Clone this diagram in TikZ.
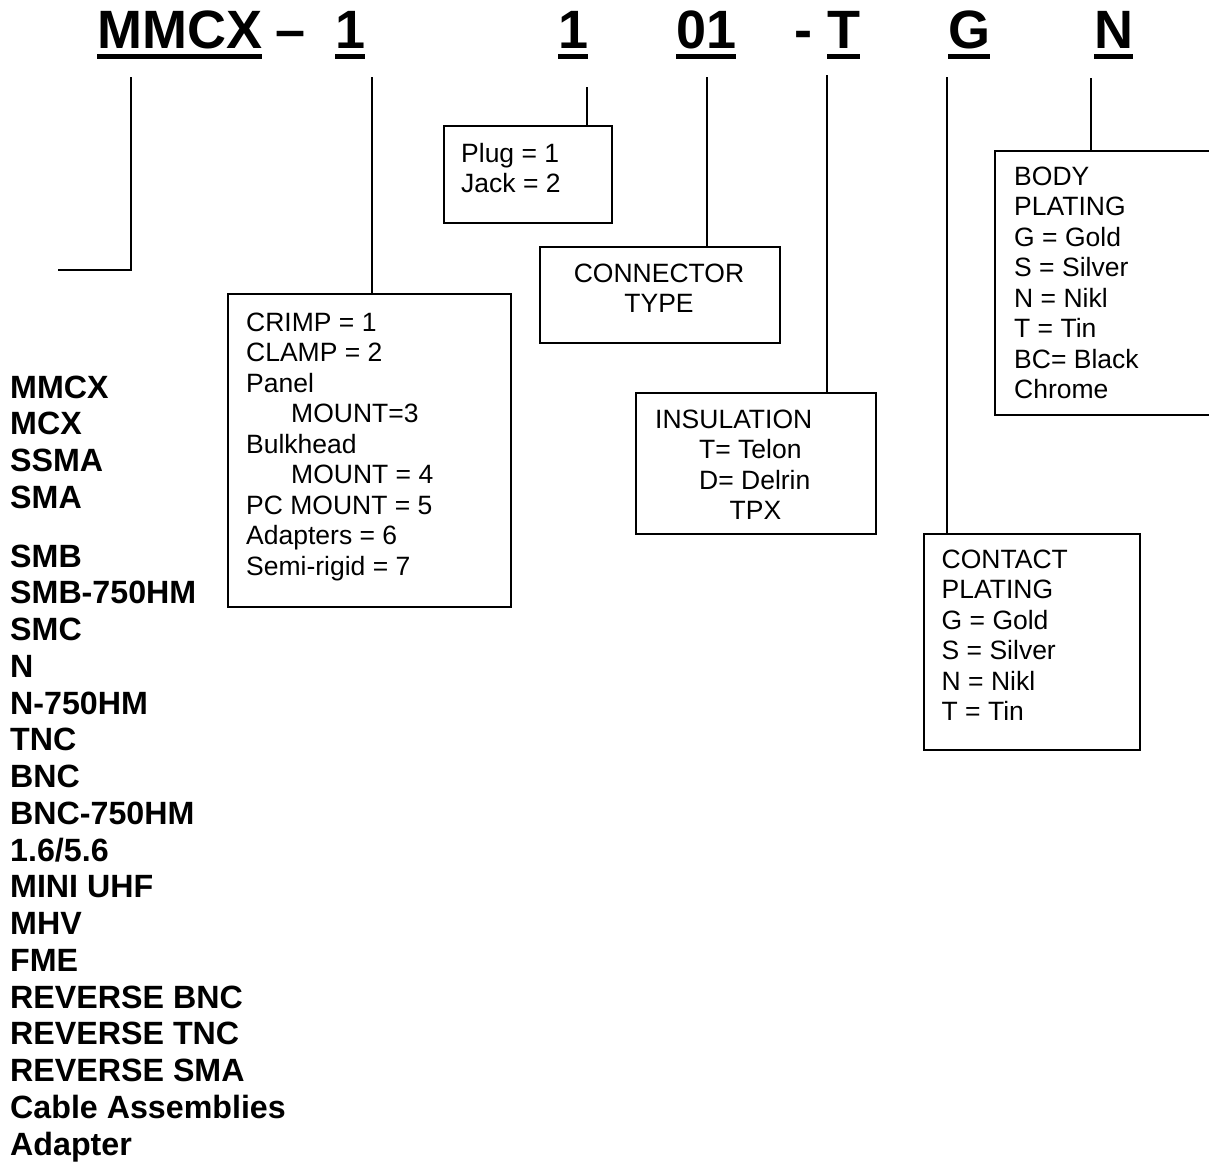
\documentclass[tikz,border=0pt]{standalone}
\usepackage{fontspec}
\setmainfont{Liberation Sans}
\begin{document}
\begin{tikzpicture}[x=1pt,y=-1pt,
  ttl/.style={inner sep=0pt, anchor=base west, font=\fontsize{54}{60}\selectfont\bfseries},
  lst/.style={inner sep=0pt, anchor=base west, font=\fontsize{32.2}{36}\selectfont\bfseries},
  txt/.style={inner sep=0pt, anchor=base west, font=\fontsize{26.5}{30}\selectfont},
  ctxt/.style={txt, anchor=base},
  boxc/.style={draw, line width=2pt, inner sep=0pt, anchor=north west, rectangle},
  lnk/.style={line width=2pt},
  uline/.style={line width=5pt}]
\useasboundingbox (0,0) rectangle (1209,1162);

% title
\node[ttl] (tmmcx) at (97,48) {MMCX};
\node[ttl] (tdash) at (275,48) {–};
\node[ttl] (tone) at (335,48) {1};
\node[ttl] (ttwo) at (558,48) {1};
\node[ttl] (tzero) at (676,48) {01};
\node[ttl] (thy) at (794,48) {-};
\node[ttl] (tT) at (827,48) {T};
\node[ttl] (tG) at (948,48) {G};
\node[ttl] (tN) at (1094,48) {N};
\foreach \n in {tmmcx,tone,ttwo,tzero,tT,tG,tN}
  \draw[uline] ([yshift=-8pt]\n.base west) -- ([yshift=-8pt]\n.base east);

% boxes
\node[boxc, minimum width=168pt, minimum height=97pt] (plug) at (443,125) {};
\node[boxc, minimum width=240pt, minimum height=96pt] (conn) at (539,246) {};
\node[boxc, minimum width=283pt, minimum height=313pt] (crimp) at (227,293) {};
\node[boxc, minimum width=240pt, minimum height=141pt] (ins) at (635,392) {};
\node[boxc, minimum width=216pt, minimum height=216pt] (contact) at (923,533) {};
\node[boxc, minimum width=222pt, minimum height=264pt] (body) at (994,150) {};

% connectors
\coordinate (a0) at (131,77);
\coordinate (a1) at (58,270);
\draw[lnk] (a0) |- (a1);
\coordinate (b0) at (372,77);
\draw[lnk] (b0) -- (b0 |- crimp.north);
\coordinate (c0) at (587,87);
\draw[lnk] (c0) -- (c0 |- plug.north);
\coordinate (d0) at (707,77);
\draw[lnk] (d0) -- (d0 |- conn.north);
\coordinate (e0) at (827,75);
\draw[lnk] (e0) -- (e0 |- ins.north);
\coordinate (f0) at (947,77);
\draw[lnk] (f0) -- (f0 |- contact.north);
\coordinate (g0) at (1091,78);
\draw[lnk] (g0) -- (g0 |- body.north);

% plug box text
\node[txt] (p1) at (461,162) {Plug = 1};
\node[txt] (p2) at (461,192) {Jack = 2};

% connector type
\node[ctxt] (k1) at (659,282) {CONNECTOR};
\node[ctxt] (k2) at (659,312) {TYPE};

% crimp box text
\node[txt] (m1) at (246,331) {CRIMP = 1};
\node[txt] (m2) at (246,361.5) {CLAMP = 2};
\node[txt] (m3) at (246,392) {Panel};
\node[txt] (m4) at (291,422.5) {MOUNT=3};
\node[txt] (m5) at (246,453) {Bulkhead};
\node[txt] (m6) at (291,483.5) {MOUNT = 4};
\node[txt] (m7) at (246,514) {PC MOUNT = 5};
\node[txt] (m8) at (246,544.5) {Adapters = 6};
\node[txt] (m9) at (246,575) {Semi-rigid = 7};

% insulation
\node[txt] (i1) at (655,428) {INSULATION};
\node[txt] (i2) at (699,458.5) {T= Telon};
\node[txt] (i3) at (699,489) {D= Delrin};
\node[txt] (i4) at (729.5,519.5) {TPX};

% body plating
\node[txt] (bp1) at (1014,185) {BODY};
\node[txt] (bp2) at (1014,215.5) {PLATING};
\node[txt] (bp3) at (1014,246) {G = Gold};
\node[txt] (bp4) at (1014,276.5) {S = Silver};
\node[txt] (bp5) at (1014,307) {N = Nikl};
\node[txt] (bp6) at (1014,337.5) {T = Tin};
\node[txt] (bp7) at (1014,368) {BC= Black};
\node[txt] (bp8) at (1014,398.5) {Chrome};

% contact plating
\node[txt] (cp1) at (941.5,568) {CONTACT};
\node[txt] (cp2) at (941.5,598.5) {PLATING};
\node[txt] (cp3) at (941.5,629) {G = Gold};
\node[txt] (cp4) at (941.5,659.5) {S = Silver};
\node[txt] (cp5) at (941.5,690) {N = Nikl};
\node[txt] (cp6) at (941.5,720.5) {T = Tin};

% connector list
\node[lst] (l1) at (10,398) {MMCX};
\node[lst] (l2) at (10,434.75) {MCX};
\node[lst] (l3) at (10,471.5) {SSMA};
\node[lst] (l4) at (10,508.25) {SMA};
\node[lst] (l5) at (10,567) {SMB};
\node[lst] (l6) at (10,603.75) {SMB-750HM};
\node[lst] (l7) at (10,640.5) {SMC};
\node[lst] (l8) at (10,677.25) {N};
\node[lst] (l9) at (10,714) {N-750HM};
\node[lst] (l10) at (10,750.75) {TNC};
\node[lst] (l11) at (10,787.5) {BNC};
\node[lst] (l12) at (10,824.25) {BNC-750HM};
\node[lst] (l13) at (10,861) {1.6/5.6};
\node[lst] (l14) at (10,897.75) {MINI UHF};
\node[lst] (l15) at (10,934.5) {MHV};
\node[lst] (l16) at (10,971.25) {FME};
\node[lst] (l17) at (10,1008) {REVERSE BNC};
\node[lst] (l18) at (10,1044.75) {REVERSE TNC};
\node[lst] (l19) at (10,1081.5) {REVERSE SMA};
\node[lst] (l20) at (10,1118.25) {Cable Assemblies};
\node[lst] (l21) at (10,1155) {Adapter};
\end{tikzpicture}
\end{document}
